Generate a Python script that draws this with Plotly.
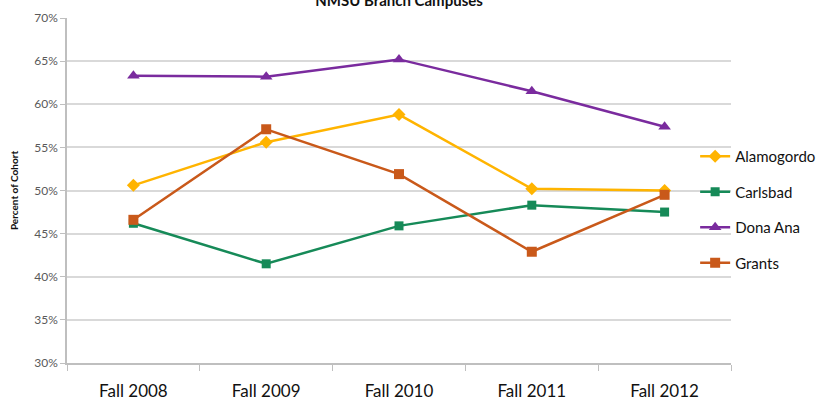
import plotly.graph_objects as go

# dados
terms = ["Fall 2008", "Fall 2009", "Fall 2010", "Fall 2011", "Fall 2012"]
alamogordo = [0.506, 0.556, 0.588, 0.502, 0.500]
carlsbad = [0.462, 0.415, 0.459, 0.483, 0.475]
dona_ana = [0.633, 0.632, 0.652, 0.615, 0.574]
grants = [0.466, 0.571, 0.519, 0.429, 0.495]
y_ticks = [0.30, 0.35, 0.40, 0.45, 0.50, 0.55, 0.60, 0.65, 0.70]

FONT = "Lato, 'Open Sans', sans-serif"

series = [
    ("Alamogordo", alamogordo, "#FFB400", "diamond", 10),
    ("Carlsbad", carlsbad, "#168A58", "square", 9),
    ("Dona Ana", dona_ana, "#7A2B9E", "triangle-up", 11),
    ("Grants", grants, "#C9591A", "square", 10),
]

fig = go.Figure()
for name, vals, color, symbol, size in series:
    fig.add_trace(go.Scatter(
        x=terms, y=vals, name=name, legendgroup=name, mode="lines+markers",
        line=dict(color=color, width=2.5),
        marker=dict(color=color, symbol=symbol, size=size),
    ))

fig.update_layout(
    width=837, height=401,
    margin=dict(l=67, r=106, t=18, b=38),
    paper_bgcolor="white", plot_bgcolor="white",
    font=dict(family=FONT, color="#222"),
    # título cortado no topo, como no original
    title=dict(text="<b>NMSU Branch Campuses</b>", x=0.5, xref="paper",
               y=0.999, yref="container", yanchor="middle",
               font=dict(size=15, color="#111")),
    legend=dict(x=0.946, xanchor="left", y=0.445, yanchor="middle",
                font=dict(size=15, color="#111"), itemwidth=30,
                tracegroupgap=13, bgcolor="rgba(0,0,0,0)"),
)
fig.update_yaxes(
    range=[0.30, 0.70], tickvals=y_ticks, tickformat=".0%", automargin=False,
    showgrid=True, gridcolor="#D9D9D9", gridwidth=1.5,
    showline=True, linecolor="#BFBFBF", linewidth=1.5,
    ticks="outside", ticklen=5, tickcolor="#BFBFBF",
    tickfont=dict(size=12, color="#595959"), zeroline=False,
    title=dict(text="<b>Percent of Cohort</b>", font=dict(size=10, color="#111"), standoff=14),
)
fig.update_xaxes(
    showgrid=False, showline=True, linecolor="#BFBFBF", linewidth=1.5,
    tickfont=dict(size=17, color="#111"), ticks="outside", tickson="boundaries",
    ticklen=6, tickcolor="#BFBFBF", range=[-0.5, 4.5], automargin=False,
    ticklabelstandoff=12,
)

# a página tem margem de 8px no body; removemos para alinhar com a janela
fig.write_html("out.html", config={"displayModeBar": False},
               post_script="document.body.style.margin='0';")
